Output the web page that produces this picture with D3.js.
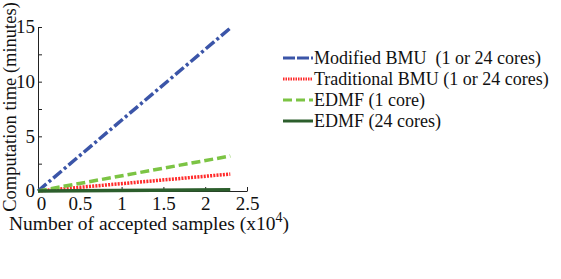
<!DOCTYPE html>
<html>
<head>
<meta charset="utf-8">
<script src="https://cdn.jsdelivr.net/npm/d3@7"></script>
<style>
  html, body { margin: 0; padding: 0; background: #fff; }
  svg { display: block; }
  svg text { font-family: "Liberation Serif", "Times New Roman", "DejaVu Serif", serif; white-space: pre; }
</style>
</head>
<body>
<div id="chart"></div>
<script>
// Samples (x10^4) at the start and end of each run
const samples = [0, 2.3];
const seriesNames = ["Modified BMU  (1 or 24 cores)", "Traditional BMU (1 or 24 cores)", "EDMF (1 core)", "EDMF (24 cores)"];
const modifiedBMU = [0, 14.9];
const traditionalBMU = [0, 1.55];
const edmf1 = [0, 3.2];
const edmf24 = [0, 0.12];
const xTicks = [0, 0.5, 1, 1.5, 2, 2.5];
const yTicks = [0, 2.5, 5, 7.5, 10, 12.5, 15];

const W = 561, H = 279;
const styles = [
  { color: "#3b55a8", dash: "11,3,3,3", width: 3.5 },
  { color: "#ff2b2b", dash: "2,1.2", width: 3.5 },
  { color: "#7cc444", dash: "9,4", width: 3.5 },
  { color: "#2c5e2c", dash: null, width: 3.5 }
];
const values = [modifiedBMU, traditionalBMU, edmf1, edmf24];

const svg = d3.select("#chart").append("svg")
  .attr("width", W).attr("height", H).attr("viewBox", `0 0 ${W} ${H}`);

const x = d3.scaleLinear().domain([0, 2.5]).range([38, 247]);
const y = d3.scaleLinear().domain([0, 15]).range([191, 27]);

// axes: ticks point inward, only some y ticks labelled
const yAxis = svg.append("g").attr("transform", "translate(38,0)")
  .call(d3.axisLeft(y).tickValues(yTicks).tickSizeInner(-4).tickSizeOuter(0).tickPadding(3)
    .tickFormat(d => d % 5 === 0 ? d : ""));
const xAxis = svg.append("g").attr("transform", "translate(0,191)")
  .call(d3.axisBottom(x).tickValues(xTicks).tickSizeInner(-4).tickSizeOuter(0).tickPadding(6)
    .tickFormat(d => d));
[yAxis, xAxis].forEach(a => {
  a.attr("font-family", null).attr("font-size", null);
  a.select(".domain").attr("stroke", "#222").attr("stroke-width", 1);
  a.selectAll(".tick line").attr("stroke", "#222");
  a.selectAll("text").attr("fill", "#111").style("font-size", "19px");
});
yAxis.selectAll("text").attr("dy", "0.3em");
xAxis.select(".tick text").attr("dx", 3);

// series
const line = d3.line().x((d, i) => x(samples[i])).y(d => y(d));
values.forEach((vals, k) => {
  const s = styles[k];
  svg.append("path").datum(vals)
    .attr("d", line)
    .attr("fill", "none")
    .attr("stroke", s.color)
    .attr("stroke-width", s.width)
    .attr("stroke-dasharray", s.dash)
    .attr("stroke-linecap", "butt");
});

// axis titles
svg.append("text")
  .attr("transform", "translate(16,107) rotate(-90)")
  .attr("text-anchor", "middle")
  .style("font-size", "18.5px").attr("fill", "#111")
  .text("Computation time (minutes)");
const xl = svg.append("text")
  .attr("x", 9).attr("y", 230)
  .style("font-size", "19.5px").attr("fill", "#111");
xl.append("tspan").text("Number of accepted samples (x10");
xl.append("tspan").attr("dy", -8).style("font-size", "14px").text("4");
xl.append("tspan").attr("dy", 8).text(")");

// legend
const lg = svg.append("g");
seriesNames.forEach((name, k) => {
  const s = styles[k];
  const cy = 58 + k * 21;
  lg.append("line").attr("x1", 283).attr("x2", 313).attr("y1", cy).attr("y2", cy)
    .attr("stroke", s.color).attr("stroke-width", 3)
    .attr("stroke-dasharray", k === 0 ? "12,2" : (k === 1 ? "1.5,1" : s.dash));
  lg.append("text").attr("x", 314).attr("y", cy).attr("dy", "0.35em")
    .attr("xml:space", "preserve")
    .style("font-size", "18px").attr("fill", "#111")
    .text(name);
});
</script>
</body>
</html>
